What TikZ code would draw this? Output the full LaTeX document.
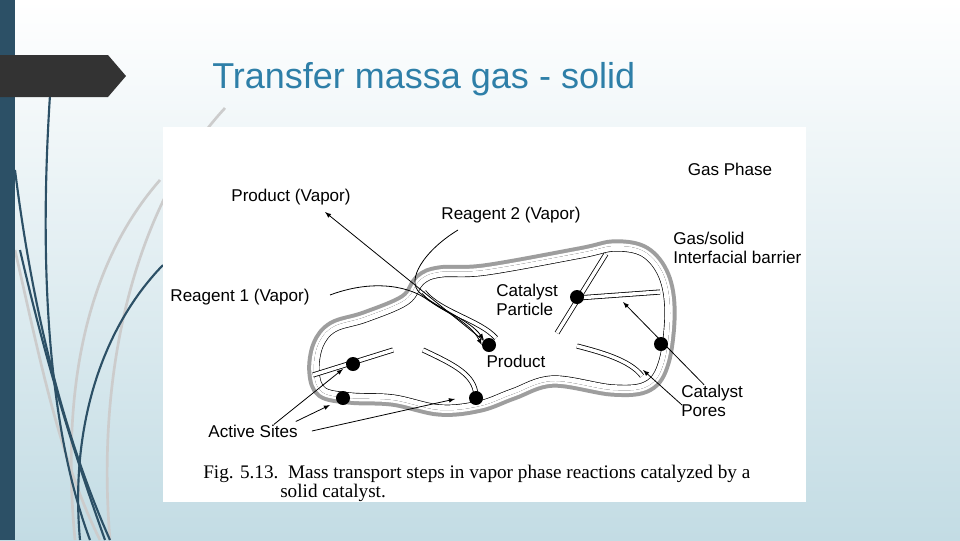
\documentclass[tikz,border=0pt]{standalone}
\usepackage{fontspec}
\setmainfont{Liberation Sans}
\newfontfamily\serifcap{Liberation Serif}
\begin{document}
\begin{tikzpicture}[x=0.75pt,y=-0.75pt,
  lbl/.style={font=\fontsize{12.8}{14.5}\selectfont, inner sep=0pt, align=left},
  site/.style={circle, fill=black, minimum size=10.5pt, inner sep=0pt},
  pore/.style={double=white, double distance=2.6pt, line width=0.6pt},
  ptr/.style={-latex, line width=0.6pt},
  deco/.style={line width=1.6pt, color=deepblue},
  decog/.style={line width=2pt, color=black!20}]
\definecolor{deepblue}{HTML}{2C5066}
\definecolor{titleblue}{HTML}{2E7FA8}
\definecolor{bgbot}{HTML}{C3DCE4}
\useasboundingbox (0,0) rectangle (960,540);
\shade[top color=white, bottom color=bgbot] (0,0) rectangle (960,540);
% decorative curves
\draw[decog] (160,180) .. controls (90,260) and (60,380) .. (75,540);
\draw[decog] (225,108) .. controls (140,200) and (95,360) .. (110,540);
\draw[decog] (15,250) .. controls (40,360) and (60,460) .. (100,540);
\draw[deco] (50,95) .. controls (40,250) and (45,420) .. (90,540);
\draw[deco] (15,170) .. controls (35,330) and (70,450) .. (110,540);
\draw[deco] (163,265) .. controls (100,330) and (70,430) .. (80,540);
\draw[deco] (20,250) .. controls (50,380) and (80,470) .. (105,540);
\fill[deepblue] (0,0) rectangle (15,540);
\fill[black!80] (0,55) -- (108,55) -- (126,76) -- (108,97) -- (0,97) -- cycle;
\node[anchor=base west, text=titleblue, font=\fontsize{27}{30}\selectfont, inner sep=0pt] (title) at (212,88) {Transfer massa gas - solid};
% panel
\fill[white] (163,127) rectangle (806,502);
% blob
\def\blob{plot[smooth cycle, tension=0.6] coordinates {(314,372) (318,345) (333,327) (365,317) (405,300) (420,280) (440,272) (485,270) (580,253) (615,246) (645,252) (664,276) (670,313) (664,362) (648,386) (613,390) (553,381) (513,394) (480,406) (440,410) (393,400) (350,398) (322,392)}}
\draw[line width=10pt, black!38] \blob;
\draw[line width=4pt, white] \blob;
\begin{scope}
\clip \blob;
\fill[white] \blob;
\draw[line width=8.4pt, black] \blob;
\draw[line width=7.4pt, white] \blob;
\end{scope}
% pores
\draw[pore] (313,375) -- (393,350);
\draw[pore] (423,350) .. controls (455,365) and (475,375) .. (476,396);
\draw[pore] (557,333) -- (606,254);
\draw[pore] (577,298) -- (660,292);
\draw[pore] (577,346) .. controls (600,352) and (630,360) .. (642,376);
\draw[pore] (424,292) .. controls (440,312) and (480,320) .. (496,338);
% sites
\node[site] (s1) at (353,364) {};
\node[site] (s2) at (343,398) {};
\node[site] (s3) at (476,398) {};
\node[site] (prod) at (489,345) {};
\node[site] (cat) at (577,297) {};
\node[site] (s4) at (661,344) {};
% reagent paths
\coordinate (r2s) at (458,230);
\coordinate (r1s) at (330,295);
\draw[line width=0.6pt, -latex] (r2s) .. controls (425,250) and (405,280) .. (420,293) .. controls (440,310) and (470,320) .. (prod.north west);
\draw[line width=0.6pt, -latex] (r1s) .. controls (370,280) and (405,285) .. (425,298) .. controls (445,312) and (470,322) .. (prod.west);
% labels
\node[lbl] (gas) at (730,169) {Gas Phase};
\node[lbl] (pv) at (291,197) {Product (Vapor)};
\node[lbl] (r2) at (511,215) {Reagent 2 (Vapor)};
\node[lbl] (r1) at (240,297) {Reagent 1 (Vapor)};
\node[lbl, anchor=west] (gsb) at (673,248) {Gas/solid\\Interfacial barrier};
\node[lbl, anchor=west] (cp) at (496,300) {Catalyst\\Particle};
\node[lbl] (pl) at (516,361) {Product};
\node[lbl, anchor=west] (pores) at (681,401) {Catalyst\\Pores};
\node[lbl] (act) at (253,431) {Active Sites};
\draw[ptr] (prod) -- (325,212);
\draw[ptr] (act.north east) ++(-24,0) -- (343,369);
\draw[ptr] (act.north east) ++(-2,-3) -- (330,405);
\draw[ptr] (act.east) ++(14,0) -- (455,399);
\draw[ptr] (pores.north) ++(-8,0) -- (623,302);
\draw[ptr] (pores.west) ++(1,4) -- (643,370);
% caption
\node[anchor=base west, inner sep=0pt, font=\serifcap\fontsize{14.4}{16}\selectfont] (cap1) at (203,478) {Fig. 5.13.\ \ Mass transport steps in vapor phase reactions catalyzed by a};
\node[anchor=base west, inner sep=0pt, font=\serifcap\fontsize{14.4}{16}\selectfont] (cap2) at (280,497) {solid catalyst.};
\end{tikzpicture}
\end{document}
